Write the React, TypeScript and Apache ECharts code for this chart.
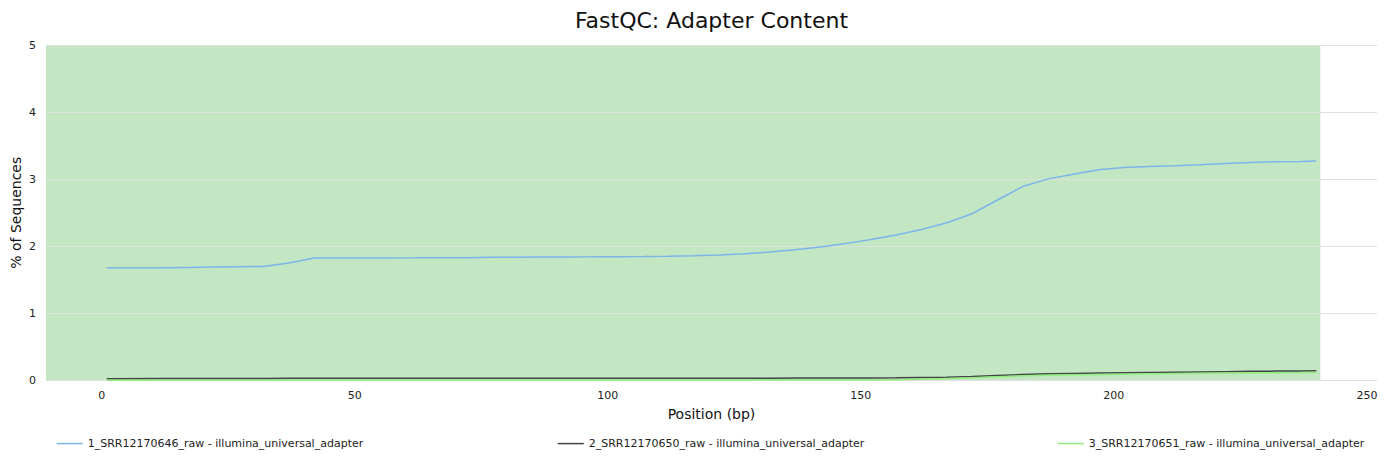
import React, { useEffect, useRef } from "react";
import * as echarts from "echarts";

const positions = [1, 12, 17, 22, 27, 32, 37, 42, 47, 52, 57, 62, 67, 72, 77, 82, 87, 92, 97, 102, 107, 112, 117, 122, 127, 132, 137, 142, 147, 152, 157, 162, 167, 172, 177, 182, 187, 192, 197, 202, 207, 212, 217, 222, 227, 232, 237, 240];

const s1Values = [1.68, 1.68, 1.685, 1.69, 1.695, 1.7, 1.75, 1.825, 1.825, 1.825, 1.827, 1.828, 1.83, 1.83, 1.835, 1.838, 1.84, 1.842, 1.843, 1.845, 1.848, 1.852, 1.86, 1.87, 1.89, 1.915, 1.95, 1.99, 2.04, 2.1, 2.17, 2.25, 2.35, 2.485, 2.69, 2.89, 3.005, 3.075, 3.14, 3.175, 3.19, 3.2, 3.215, 3.235, 3.25, 3.26, 3.265, 3.27];

const s2Values = [0.025, 0.028, 0.03, 0.03, 0.03, 0.031, 0.032, 0.033, 0.033, 0.033, 0.033, 0.034, 0.034, 0.034, 0.034, 0.034, 0.035, 0.035, 0.035, 0.035, 0.035, 0.035, 0.035, 0.035, 0.035, 0.035, 0.036, 0.036, 0.037, 0.038, 0.04, 0.045, 0.05, 0.06, 0.075, 0.09, 0.1, 0.105, 0.11, 0.115, 0.12, 0.123, 0.127, 0.132, 0.137, 0.14, 0.143, 0.145];

const s3Values = [0.005, 0.005, 0.005, 0.005, 0.005, 0.005, 0.005, 0.005, 0.005, 0.005, 0.005, 0.005, 0.005, 0.005, 0.005, 0.005, 0.005, 0.005, 0.005, 0.005, 0.005, 0.005, 0.005, 0.005, 0.005, 0.006, 0.006, 0.007, 0.008, 0.009, 0.01, 0.02, 0.03, 0.04, 0.055, 0.07, 0.08, 0.085, 0.09, 0.095, 0.1, 0.103, 0.107, 0.11, 0.113, 0.116, 0.118, 0.12];

const seriesNames = [
  "1_SRR12170646_raw - illumina_universal_adapter",
  "2_SRR12170650_raw - illumina_universal_adapter",
  "3_SRR12170651_raw - illumina_universal_adapter",
];
const seriesColors = ["#7cb5ec", "#434348", "#90ed7d"];
const yTicks = [0, 1, 2, 3, 4, 5];
const xTicks = [0, 50, 100, 150, 200, 250];
const bandEnd = 240.8;

const FONT = "DejaVu Sans, sans-serif";

export default function App() {
  const ref = useRef<HTMLDivElement>(null);
  useEffect(() => {
    document.body.style.margin = "0";
    if (!ref.current) return;
    const chart = echarts.init(ref.current, null, { renderer: "svg" });
    const allValues = [s1Values, s2Values, s3Values];
    const lineSeries = allValues.map((vals, i) => ({
      name: seriesNames[i],
      type: "line",
      data: positions.map((p, j) => [p, vals[j]]),
      symbol: "none",
      showSymbol: false,
      lineStyle: { color: seriesColors[i], width: 1.5 },
      itemStyle: { color: seriesColors[i] },
      z: 3 + i,
    }));
    chart.setOption({
      animation: false,
      title: {
        text: "FastQC: Adapter Content",
        left: 706.5,
        textAlign: "center",
        top: 4,
        textStyle: { fontFamily: FONT, fontSize: 22, fontWeight: "normal", color: "#111" },
      },
      legend: seriesNames.map((n, i) => ({
        data: [n],
        left: [51, 552, 1052][i],
        top: 433,
        itemWidth: 26,
        itemHeight: 14,
        itemStyle: { opacity: 0 },
        lineStyle: { width: 1.5 },
        textStyle: { fontFamily: FONT, fontSize: 11, color: "#222" },
      })),
      grid: { left: 46, right: 11, top: 45, bottom: 79.5, containLabel: false, outerBoundsMode: "none" },
      xAxis: {
        type: "value",
        min: -11,
        max: 252,
        name: "Position (bp)",
        nameLocation: "middle",
        nameGap: 26,
        nameMoveOverlap: false,
        nameTextStyle: { fontFamily: FONT, fontSize: 14, color: "#111" },
        axisLine: { show: false },
        axisTick: { show: false },
        splitLine: { show: false },
        axisLabel: {
          customValues: xTicks,
          margin: 9,
          fontFamily: FONT,
          fontSize: 11,
          color: "#222",
        },
      },
      yAxis: {
        type: "value",
        min: yTicks[0],
        max: yTicks[yTicks.length - 1],
        interval: 1,
        z: 1.5,
        name: "% of Sequences",
        nameLocation: "middle",
        nameGap: 23,
        nameMoveOverlap: false,
        nameTextStyle: { fontFamily: FONT, fontSize: 14, color: "#111" },
        axisLine: { show: false },
        axisTick: { show: false },
        splitLine: { show: true, lineStyle: { color: "#e0e0e0", width: 1 } },
        axisLabel: { margin: 10, fontFamily: FONT, fontSize: 11, color: "#222" },
      },
      series: [
        {
          type: "line",
          data: [],
          z: 1,
          silent: true,
          markArea: {
            silent: true,
            itemStyle: { color: "#c3e6c3" },
            data: [[{ xAxis: -11 }, { xAxis: bandEnd }]],
          },
        },
        ...lineSeries,
      ],
    });
    return () => chart.dispose();
  }, []);
  return <div ref={ref} style={{ width: 1388, height: 460 }} />;
}
